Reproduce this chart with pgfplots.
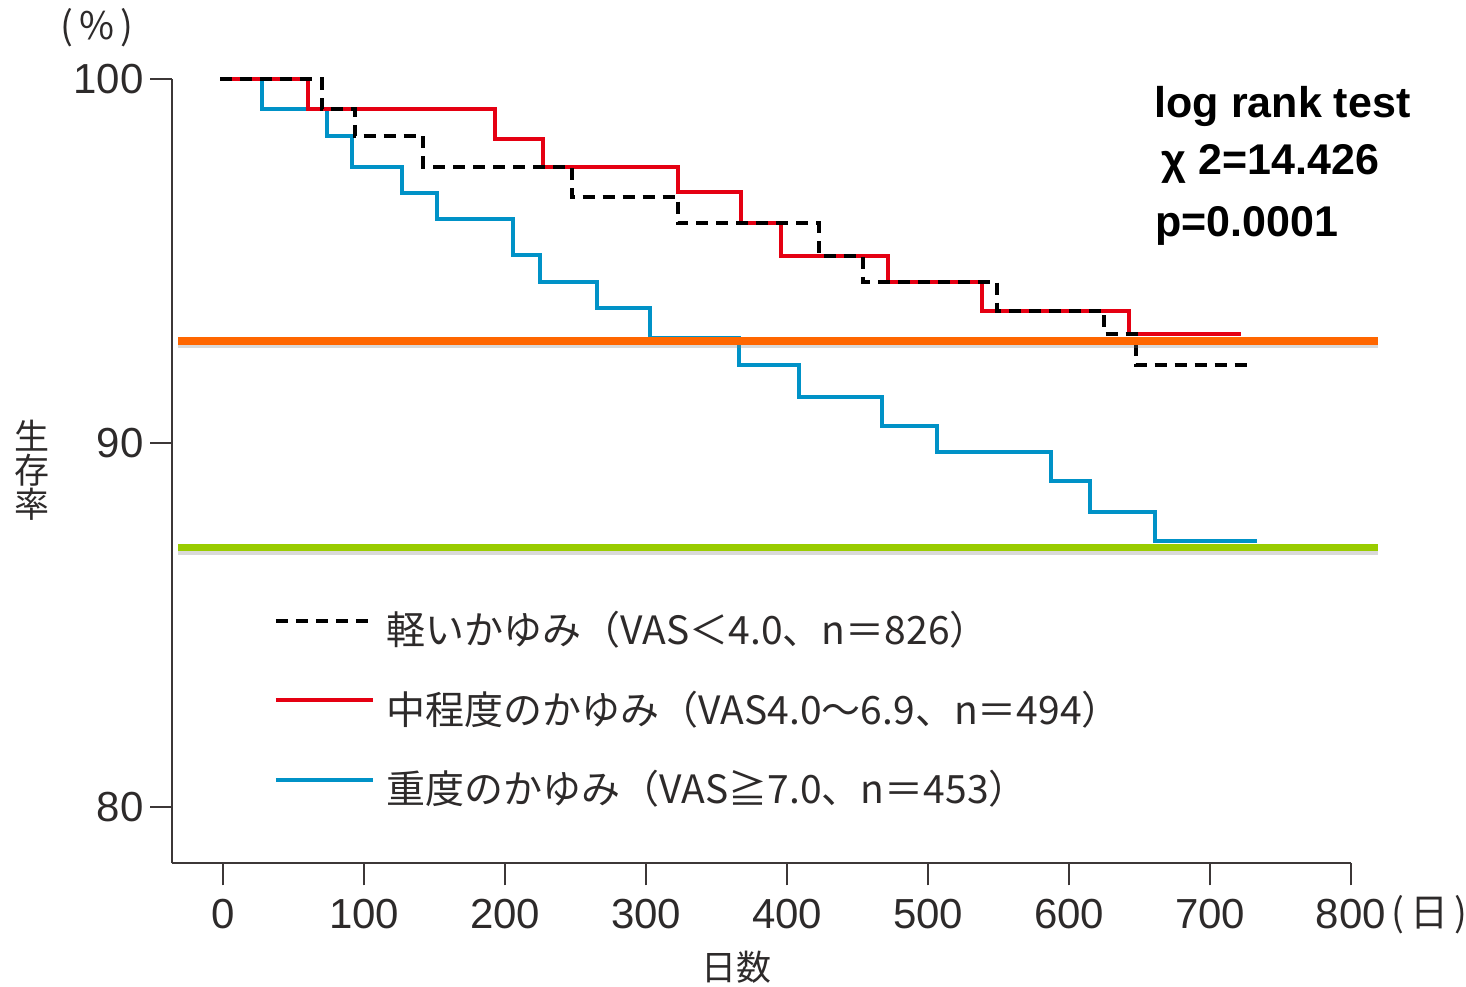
\documentclass[border=0pt]{standalone}
\usepackage{fontspec}
\setmainfont{Liberation Sans}
\newfontfamily\cjk{Noto Sans CJK JP}
\usepackage{pgfplots}
\pgfplotsset{compat=1.18}
\definecolor{kmred}{RGB}{229,0,18}
\definecolor{kmblue}{RGB}{0,146,199}
\definecolor{hlorange}{RGB}{255,102,0}
\definecolor{hlgreen}{RGB}{153,204,0}
\definecolor{axgray}{RGB}{60,55,55}
\definecolor{txtgray}{RGB}{45,42,42}
\begin{document}
\begin{tikzpicture}
\path[use as bounding box] (-86.25pt,-61.35pt) rectangle (646.75pt,431.65pt);
\begin{axis}[
 at={(0,0)}, anchor=south west,
 scale only axis, width=589.25pt, height=392pt,
 xmin=-36, xmax=800, ymin=78.44, ymax=100,
 axis x line=bottom, axis y line=left,
 axis line style={-, draw=axgray, line width=1pt},
 tick align=outside, major tick length=11pt,
 tick style={draw=axgray, line width=1pt},
 xtick={0,100,...,800}, ytick={80,90,100},
 minor tick num=0,
 ticklabel style={font=\fontsize{21}{24}\selectfont, text=txtgray},
 xticklabel style={yshift=-3.5pt},
 /pgf/number format/assume math mode=true,
 clip=false,
 reverse legend,
 legend cell align=left,
 legend style={at={(axis cs:36.0,85.27)}, anchor=north west, draw=none, fill=none,
   inner sep=0pt, outer sep=0pt, row sep=19.75pt, column sep=6pt,
   font=\cjk\fontsize{19.5}{23}\selectfont,
   nodes={inner sep=0pt, text height=15pt, text depth=5pt, text=txtgray}},
 legend image code/.code={\draw[#1] (0pt,7pt) -- (48.5pt,7pt);},
]
\addplot[const plot, draw=kmblue, line width=2pt] coordinates {
(-2,100) (27.2,99.18) (73.4,98.44) (91.1,97.60) (126.6,96.87) (151.4,96.15)
(205.7,95.17) (224.7,94.43) (264.9,93.70) (302.7,92.89) (365.7,92.13)
(408.2,91.25) (467.5,90.47) (506,89.74) (586.9,88.96) (614.5,88.11)
(660.7,87.31) (733,87.31)};
\addlegendentry{重度のかゆみ（VAS≧7.0、n＝453）}
\addplot[const plot, draw=kmred, line width=2pt] coordinates {
(-2,100) (60.3,99.18) (192.7,98.36) (226.8,97.60) (322.6,96.91) (367,96.04)
(395.5,95.14) (471.5,94.43) (538,93.63) (642.5,92.99) (721.7,92.99)};
\addlegendentry{中程度のかゆみ（VAS4.0～6.9、n＝494）}
\addplot[const plot, draw=black, line width=2pt, dash pattern=on 6pt off 4pt] coordinates {
(-2,100) (69.8,99.18) (93.4,98.44) (141.9,97.60) (247.2,96.76) (322.6,96.04)
(422.4,95.14) (453.8,94.43) (548.9,93.63) (625.1,92.99) (647.3,92.14) (729.6,92.14)};
\addlegendentry{軽いかゆみ（VAS＜4.0、n＝826）}
% highlight lines with soft shadows
\addplot[forget plot, draw=gray, opacity=0.3, line width=3pt] coordinates {(-32,92.68) (819,92.68)};
\addplot[forget plot, draw=hlorange, line width=4pt] coordinates {(-32,92.81) (819,92.81)};
\addplot[forget plot, draw=gray, opacity=0.3, line width=3pt] coordinates {(-32,87.00) (819,87.00)};
\addplot[forget plot, draw=hlgreen, line width=3.5pt] coordinates {(-32,87.13) (819,87.13)};
% labels
\node[font=\cjk\fontsize{19}{21}\selectfont, text=txtgray] at (axis cs:-89.6,101.41) {(\,\%\,)};
\node[font=\cjk\fontsize{17.5}{17}\selectfont, align=center, text=txtgray] at (axis cs:-135.8,89.26) {生\\存\\率};
\node[font=\cjk\fontsize{17.5}{21}\selectfont, text=txtgray] at (axis cs:364.4,75.59) {日数};
\node[font=\cjk\fontsize{19}{21}\selectfont, text=txtgray] at (axis cs:855.5,77.02) {(\,日\,)};
\node[anchor=base west, inner sep=0pt, font=\bfseries\fontsize{21.5}{24}\selectfont] at (axis cs:660.5,98.963) {log rank test};
\node[anchor=base west, inner sep=0pt, font=\bfseries\fontsize{21.5}{24}\selectfont] at (axis cs:665.5,97.37) {χ 2=14.426};
\node[anchor=base west, inner sep=0pt, font=\bfseries\fontsize{21.5}{24}\selectfont] at (axis cs:661.0,95.67) {p=0.0001};
\end{axis}
\end{tikzpicture}
\end{document}
